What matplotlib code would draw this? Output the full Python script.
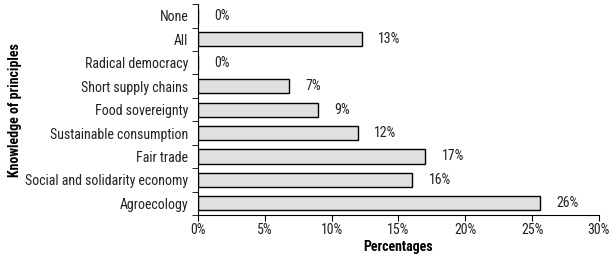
import matplotlib
matplotlib.use("Agg")
import matplotlib.pyplot as plt
import numpy as np

# bottom to top
categories = ["Agroecology", "Social and solidarity economy", "Fair trade",
              "Sustainable consumption", "Food sovereignty", "Short supply chains",
              "Radical democracy", "All", "None"]
values = [25.6, 16.0, 17.0, 11.95, 8.95, 6.8, 0, 12.25, 0]
labels = ["26%", "16%", "17%", "12%", "9%", "7%", "0%", "13%", "0%"]
xticks = [0, 5, 10, 15, 20, 25, 30]

plt.rcParams['font.family'] = ['Roboto Condensed', 'DejaVu Sans']

fig = plt.figure(figsize=(6.13, 2.57), dpi=100)
ax = fig.add_axes([0.323, 0.163, 0.654, 0.821])

y = np.arange(len(categories))
ax.barh(y, values, height=0.6, color="#e0e0e0", edgecolor="black", linewidth=1)

for i in range(len(values)):
    ax.annotate(labels[i], (values[i], y[i]), xytext=(12, 0),
                textcoords="offset points", va="center", ha="left",
                fontsize=10, color="#222222")

ax.set_xlim(0, 30)
ax.set_ylim(-0.5, len(categories) - 0.5)
ax.set_xticks(xticks)
ax.set_xticklabels([str(t) + "%" for t in xticks], fontsize=10, color="#222222")
ax.set_yticks(y)
ax.set_yticklabels(categories, fontsize=10, color="#222222")
ax.set_yticks(np.arange(-0.5, len(categories), 1), minor=True)
ax.tick_params(axis="y", which="major", length=0, pad=7)
ax.tick_params(axis="y", which="minor", length=4)
ax.tick_params(axis="x", length=4, pad=2)

ax.spines["top"].set_visible(False)
ax.spines["right"].set_visible(False)

ax.set_xlabel("Percentages", fontsize=10, fontweight="bold", labelpad=2)
ax.set_ylabel("Knowledge of principles", fontsize=10, fontweight="bold")
ax.yaxis.set_label_coords(-0.44, 0.5)

fig.savefig("out.png", dpi=100)
